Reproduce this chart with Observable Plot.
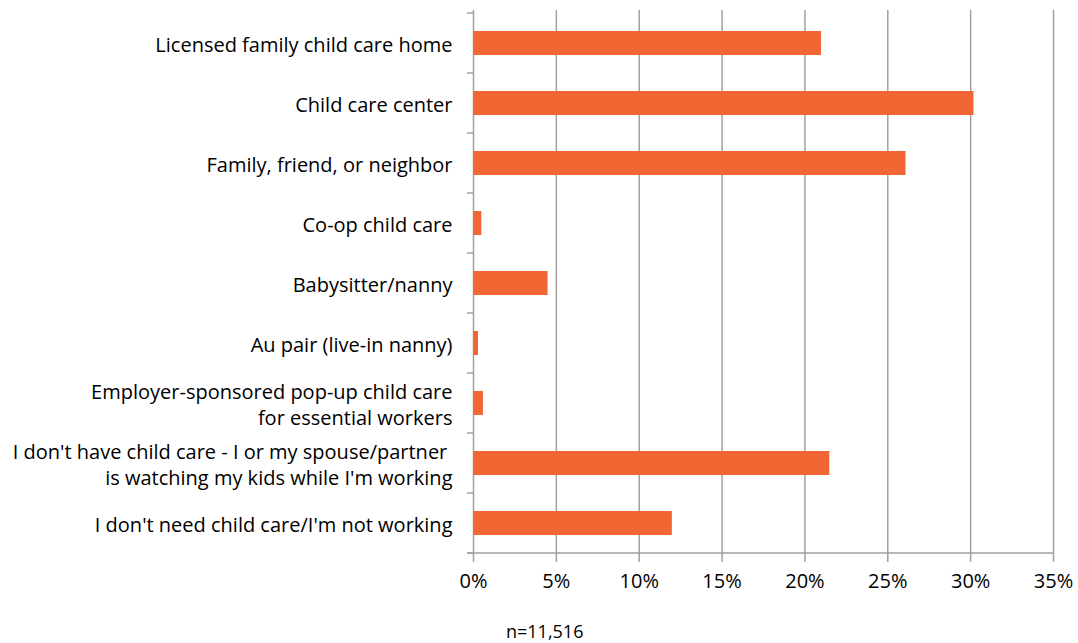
<!DOCTYPE html>
<html>
<head>
<meta charset="utf-8">
<script src="https://cdn.jsdelivr.net/npm/d3@7"></script>
<script src="https://cdn.jsdelivr.net/npm/@observablehq/plot@0.6"></script>
<style>
  body { margin: 0; background: #fff; font-family: "Open Sans", sans-serif; }
  #chart svg { display: block; }
  #note { margin-left: 506px; margin-top: 19px; font-size: 18px; line-height: 24px; color: #000; }
</style>
</head>
<body>
<div id="chart"></div>
<div id="note"></div>
<script>
const categories = [
  "Licensed family child care home",
  "Child care center",
  "Family, friend, or neighbor",
  "Co-op child care",
  "Babysitter/nanny",
  "Au pair (live-in nanny)",
  "Employer-sponsored pop-up child care\nfor essential workers",
  "I don't have child care - I or my spouse/partner \nis watching my kids while I'm working",
  "I don't need child care/I'm not working"
];
const values = [21.0, 30.2, 26.1, 0.5, 4.5, 0.3, 0.6, 21.5, 12.0];
const xTicks = [0, 5, 10, 15, 20, 25, 30, 35];
const sampleNote = "n=11,516";

const data = categories.map((c, i) => ({category: c, value: values[i]}));
const gray = "#a0a0a0";

const bandTicks = (index, scales) => {
  const y = scales.y, x = scales.x;
  const bw = typeof y.bandwidth === "function" ? y.bandwidth() : 0;
  const step = y(categories[1]) - y(categories[0]);
  const x0 = x(0);
  const g = d3.create("svg:g").attr("stroke", gray).attr("stroke-width", 1.5);
  const ys = categories.map(c => y(c) + bw / 2 - step / 2);
  ys.push(ys[ys.length - 1] + step);
  for (const yy of ys) {
    g.append("line").attr("x1", x0 - 6).attr("x2", x0).attr("y1", yy).attr("y2", yy);
  }
  g.append("line").attr("x1", x0 - 6).attr("x2", x(35)).attr("y1", ys[ys.length - 1]).attr("y2", ys[ys.length - 1]);
  return g.node();
};

const chart = Plot.plot({
  width: 1078,
  height: 600,
  marginLeft: 473,
  marginRight: 25,
  marginTop: 10,
  marginBottom: 44,
  style: {fontFamily: "'Open Sans', sans-serif", fontSize: "20px", color: "#000", background: "#fff"},
  x: {domain: [0, 35], label: null},
  y: {domain: categories, paddingInner: 0.6, paddingOuter: 0.3, label: null},
  marks: [
    Plot.ruleX(xTicks, {stroke: gray, strokeWidth: 1.5}),
    Plot.barX(data, {x: "value", y: "category", fill: "#f26633"}),
    Plot.axisX({ticks: xTicks, tickFormat: d => d + "%", tickSize: 6, tickPadding: 11, stroke: gray, strokeWidth: 1.5, fill: "#000", fontSize: 20, label: null}),
    Plot.axisY({tickSize: 0, tickPadding: 21, fill: "#000", fontSize: 20, lineHeight: 1.3, label: null}),
    bandTicks
  ]
});
document.getElementById("chart").appendChild(chart);
document.getElementById("note").textContent = sampleNote;
</script>
</body>
</html>
